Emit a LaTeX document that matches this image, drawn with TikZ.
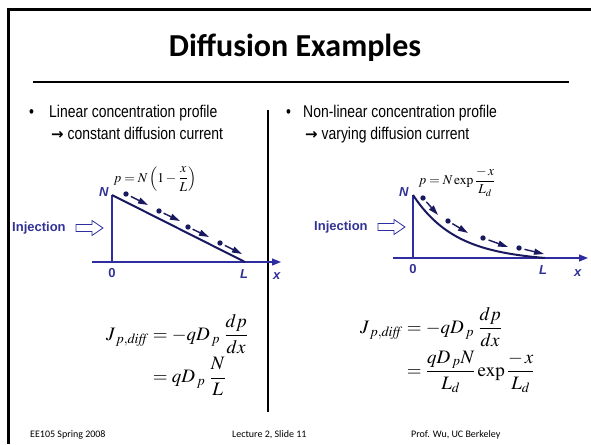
\documentclass[tikz,border=0pt]{standalone}
\usepackage{amsmath}
\usepackage{mathptmx}
\usepackage[no-math]{fontspec}
\setmainfont{Liberation Sans}
\newfontfamily\titlefont{Carlito}
\newfontfamily\bulletfont[FakeStretch=0.82]{Liberation Sans}
\newfontfamily\lblfont{Liberation Sans}
\newfontfamily\arrowfont{DejaVu Sans}
\usetikzlibrary{arrows.meta,calc}
\definecolor{axisblue}{RGB}{45,45,160}
\definecolor{navy}{RGB}{25,25,95}
\definecolor{lblblue}{RGB}{50,50,150}
\tikzset{
  axisline/.style={axisblue, line width=1.2pt},
  profile/.style={navy, line width=2pt},
  lbl/.style={text=lblblue, font=\lblfont\bfseries\fontsize{13}{15}\selectfont, inner sep=0pt},
  bullettxt/.style={anchor=base west, inner sep=0pt, font=\bulletfont\fontsize{17}{20}\selectfont},
  eqn/.style={anchor=west, inner sep=0pt, font=\fontsize{19}{22}\selectfont},
  smalleq/.style={inner sep=0pt, font=\fontsize{13.5}{16}\selectfont},
  foot/.style={anchor=base west, inner sep=0pt, font=\titlefont\fontsize{10}{12}\selectfont},
  hollowarrow/.pic={\draw[axisblue, fill=white, line width=0.8pt]
     (0,-3.5) -- (16,-3.5) -- (16,-7.5) -- (27,0) -- (16,7.5) -- (16,3.5) -- (0,3.5) -- cycle;},
  movarrow/.style={navy, line width=1.4pt, -{Triangle[length=10pt,width=6pt]}},
}
\newcommand{\bigarrow}{{\arrowfont\bfseries\fontsize{15}{18}\selectfont →}}
\begin{document}
\begin{tikzpicture}[x=1pt,y=-1pt]
\useasboundingbox (0,0) rectangle (591,444);
% frame
\draw[line width=3pt] (8,444) -- (8,10) -- (591,10);
% title
\node[font=\titlefont\bfseries\fontsize{32}{38}\selectfont] (title) at (295,48) {Diffusion Examples};
\coordinate (r1) at (33,82); \coordinate (r2) at (569,82);
\draw[line width=1.5pt] (r1) -- (r2);
% bullets
\node[bullettxt] (b1) at (29,117) {•};
\node[bullettxt] (t1) at (49,117) {Linear concentration profile};
\node[bullettxt] (t2) at (51,139) {\bigarrow\ constant diffusion current};
\node[bullettxt] (b2) at (286,117) {•};
\node[bullettxt] (t3) at (303,117) {Non-linear concentration profile};
\node[bullettxt] (t4) at (305,139) {\bigarrow\ varying diffusion current};
% divider
\coordinate (d1) at (268,110); \coordinate (d2) at (268,412);
\draw[line width=2pt] (d1) -- (d2);

% ---------- left graph ----------
\coordinate (lN) at (112,195); \coordinate (lO) at (112,262); \coordinate (lL) at (245,262);
\coordinate (lxs) at (92,262); \coordinate (lxe) at (281,262);
\draw[axisline] (lN) -- (lO);
\draw[axisline,-{Triangle[length=9pt,width=7pt]}] (lxs) -- (lxe);
\draw[profile] (lN) -- (lL);
\node[lbl] (lNl) at (104,192) {\textit{N}};
\node[lbl] (l0l) at (112,273) {0};
\node[lbl] (lLl) at (244,274) {\textit{L}};
\node[lbl] (lxl) at (277,276) {\textit{x}};
\node[lbl, anchor=west] (linj) at (12,228) {Injection};
\pic at (76,228) {hollowarrow};
\foreach \a/\b/\c/\d in {126/194/148/205, 159/211/180/221, 188/227/209/237, 220/243/242/254}{
  \fill[navy] (\a,\b) circle (2.7pt);
  \draw[movarrow] ($(\a,\b)!0.22!(\c,\d)$) -- (\c,\d);
}
\node[smalleq] (lform) at (155,179) {$p=N\left(1-\dfrac{x}{L}\right)$};

% ---------- right graph ----------
\coordinate (rN) at (413,195); \coordinate (rO) at (413,258); \coordinate (rL) at (545,258);
\coordinate (rxs) at (393,258); \coordinate (rxe) at (588,258);
\draw[axisline] (rN) -- (rO);
\draw[axisline,-{Triangle[length=9pt,width=7pt]}] (rxs) -- (rxe);
\draw[profile] plot[domain=0:132, samples=60, smooth] ({413+\x},{258-63*(exp(-\x/42)-0.0433*\x/132)});
\node[lbl] (rNl) at (404,192) {\textit{N}};
\node[lbl] (r0l) at (413,269) {0};
\node[lbl] (rLl) at (543,270) {\textit{L}};
\node[lbl] (rxl) at (578,273) {\textit{x}};
\node[lbl, anchor=west] (rinj) at (314,227) {Injection};
\pic at (378,227) {hollowarrow};
\foreach \a/\b/\c/\d in {423/198/438/215, 448/221/468/233, 483/238/508/247, 519/248/544/254}{
  \fill[navy] (\a,\b) circle (2.7pt);
  \draw[movarrow] ($(\a,\b)!0.22!(\c,\d)$) -- (\c,\d);
}
\node[smalleq] (rform) at (457,182) {$p=N\exp\dfrac{-\,x}{L_d}$};

% ---------- equations ----------
\node[eqn] (eqL) at (106,355) {$\begin{aligned} J_{\,p,\mathit{diff}} &= -qD_{\,p}\;\frac{dp}{dx}\\[0pt] &= qD_{\,p}\;\frac{N}{L}\end{aligned}$};
\node[eqn] (eqR) at (360,350) {$\begin{aligned} J_{\,p,\mathit{diff}} &= -qD_{\,p}\;\frac{dp}{dx}\\[0pt] &= \frac{qD_{\,p}N}{L_d}\exp\frac{-\,x}{L_d}\end{aligned}$};

% ---------- footer ----------
\node[foot] (f1) at (30,437) {EE105 Spring 2008};
\node[foot] (f2) at (232,437) {Lecture 2, Slide 11};
\node[foot] (f3) at (411,437) {Prof. Wu, UC Berkeley};
\end{tikzpicture}
\end{document}
